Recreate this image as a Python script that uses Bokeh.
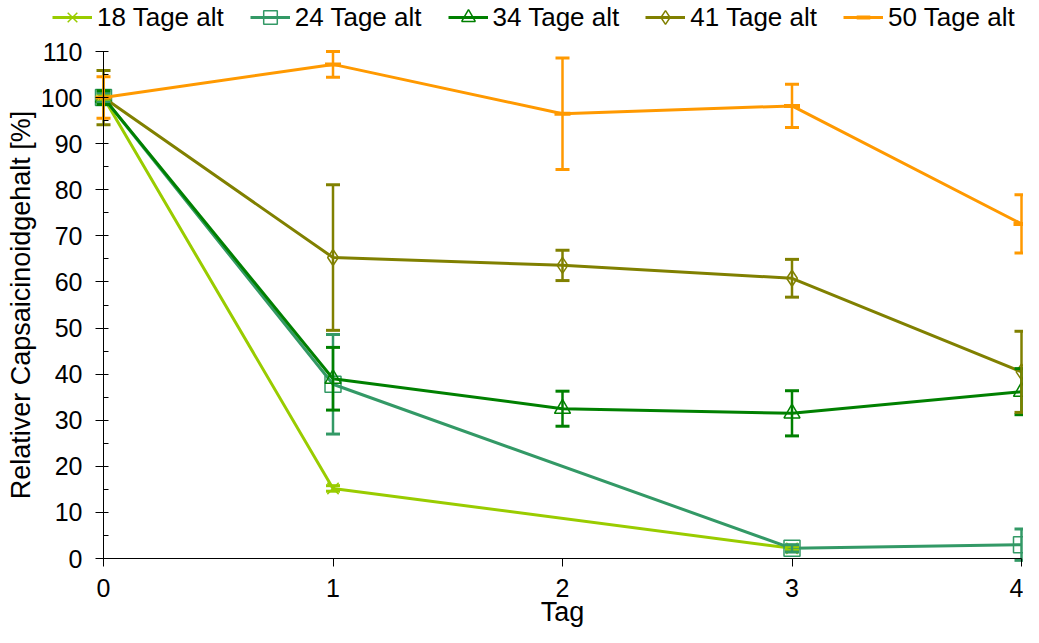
from bokeh.plotting import figure
from bokeh.models import (ColumnDataSource, Whisker, TeeHead, Legend, LegendItem,
                          Range1d, FixedTicker)
from bokeh.embed import file_html
from bokeh.resources import INLINE

# ---- data ----
series_names = ["18 Tage alt", "24 Tage alt", "34 Tage alt", "41 Tage alt", "50 Tage alt"]

days_18 = [0, 1, 3]
vals_18 = [100.0, 15.2, 2.2]
err_18 = [0.8, 0.6, 0.4]

days_24 = [0, 1, 3, 4]
vals_24 = [100.0, 37.8, 2.2, 3.0]
err_24 = [1.0, 10.8, 0.8, 3.4]

days_34 = [0, 1, 2, 3, 4]
vals_34 = [100.0, 39.0, 32.5, 31.5, 36.2]
err_34 = [1.5, 6.8, 3.8, 4.9, 5.0]

days_41 = [0, 1, 2, 3, 4]
vals_41 = [100.0, 65.3, 63.6, 60.8, 40.5]
err_41 = [5.9, 15.8, 3.3, 4.1, 8.8]

days_50 = [0, 1, 2, 3, 4]
vals_50 = [100.0, 107.2, 96.5, 98.2, 72.6]
err_50 = [4.5, 2.8, 12.1, 4.7, 6.3]

x_ticks = [0, 1, 2, 3, 4]
y_ticks = [0, 10, 20, 30, 40, 50, 60, 70, 80, 90, 100, 110]
y_minor = [5, 15, 25, 35, 45, 55, 65, 75, 85, 95, 105]

colors = ["#99CC00", "#339966", "#008000", "#808000", "#FF9900"]
markers = ["x", "square", "triangle", "diamond", "dash"]

FONT = "Liberation Sans"

# ---- layout (canvas pixels) ----
W, H = 1023, 627
AX_LEFT = 103     # pixel column of x = 0
AX_RIGHT = 1021   # pixel column of x = 4
AX_TOP = 51       # pixel row of y = 110
AX_BOTTOM = 558   # pixel row of y = 0
xs_per_px = 4 / (AX_RIGHT - AX_LEFT)
ys_per_px = 110 / (AX_BOTTOM - AX_TOP)
x_lo = 0 - AX_LEFT * xs_per_px
x_hi = 4 + (W - AX_RIGHT) * xs_per_px
y_hi = 110 + AX_TOP * ys_per_px
y_lo = 0 - (H - AX_BOTTOM) * ys_per_px

p = figure(width=W, height=H, output_backend="svg", toolbar_location=None,
           x_range=Range1d(x_lo, x_hi), y_range=Range1d(y_lo, y_hi),
           min_border=0)
p.outline_line_color = None
p.xgrid.grid_line_color = None
p.ygrid.grid_line_color = None
p.background_fill_color = "white"
p.border_fill_color = "white"

for ax in (p.xaxis[0], p.yaxis[0]):
    ax.axis_line_color = "black"
    ax.axis_line_width = 1
    ax.major_tick_line_color = "black"
    ax.minor_tick_line_color = "black"
    ax.major_label_text_font = FONT
    ax.major_label_text_font_size = "25px"
    ax.major_label_text_color = "black"
    ax.axis_label_text_font = FONT
    ax.axis_label_text_font_size = "27px"
    ax.axis_label_text_font_style = "normal"
    ax.axis_label_text_color = "black"

p.xaxis.fixed_location = 0
p.xaxis.bounds = (0, 4)
p.xaxis.ticker = FixedTicker(ticks=x_ticks)
p.xaxis.major_tick_out = 8
p.xaxis.major_tick_in = 0
p.xaxis.major_label_standoff = 12
p.xaxis.axis_label = "Tag"
p.xaxis.axis_label_standoff = -3

p.yaxis.fixed_location = 0
p.yaxis.bounds = (0, 110)
p.yaxis.ticker = FixedTicker(ticks=y_ticks, minor_ticks=y_minor)
p.yaxis.major_tick_out = 8
p.yaxis.major_tick_in = 5
p.yaxis.minor_tick_out = 0
p.yaxis.minor_tick_in = 5
p.yaxis.major_label_standoff = 13
p.yaxis.axis_label = "Relativer Capsaicinoidgehalt [%]"
p.yaxis.axis_label_standoff = 2

all_data = [(days_18, vals_18, err_18), (days_24, vals_24, err_24),
            (days_34, vals_34, err_34), (days_41, vals_41, err_41),
            (days_50, vals_50, err_50)]

items = []
for name, (xs, ys, es), col, mk in zip(series_names, all_data, colors, markers):
    src = ColumnDataSource(dict(x=xs, y=ys,
                                upper=[a + b for a, b in zip(ys, es)],
                                lower=[a - b for a, b in zip(ys, es)]))
    w = Whisker(base="x", upper="upper", lower="lower", source=src,
                line_color=col, line_width=2.5, level="glyph",
                upper_head=TeeHead(size=14, line_color=col, line_width=3),
                lower_head=TeeHead(size=14, line_color=col, line_width=3))
    p.add_layout(w)
    r_line = p.line("x", "y", source=src, line_color=col, line_width=3)
    if mk == "dash":
        r_mk = p.scatter("x", "y", source=src, marker=mk, size=16, line_color=col,
                         line_width=4, fill_color=col)
    else:
        r_mk = p.scatter("x", "y", source=src, marker=mk, size=16, line_color=col,
                         line_width=1.5, fill_alpha=0)
    items.append(LegendItem(label=name, renderers=[r_line, r_mk]))

legend = Legend(items=items, orientation="horizontal", location=(52, H - 34),
                label_text_font=FONT, label_text_font_size="26px", label_text_color="black",
                glyph_width=40, glyph_height=34, label_height=24, label_standoff=5,
                spacing=26, padding=0, margin=0, border_line_color=None,
                background_fill_alpha=0)
p.add_layout(legend, "center")

open("out.html", "w").write(file_html(p, INLINE))
